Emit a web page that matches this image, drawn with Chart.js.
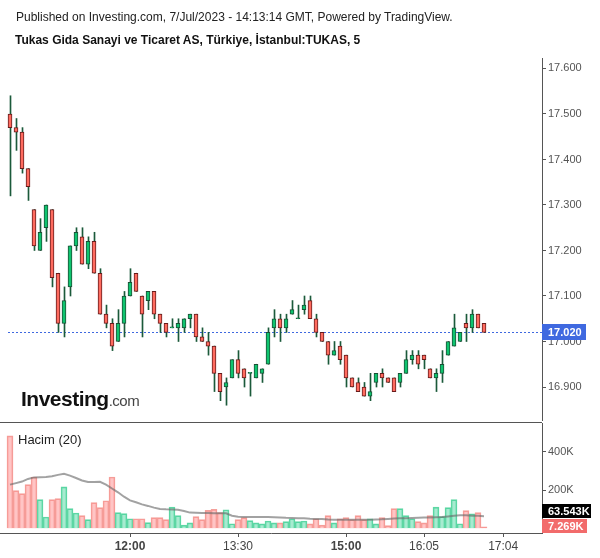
<!DOCTYPE html>
<html>
<head>
<meta charset="utf-8">
<script src="https://cdn.jsdelivr.net/npm/chart.js@4/dist/chart.umd.min.js"></script>
<style>
  body { margin: 0; width: 600px; height: 558px; position: relative; background: #fff;
         font-family: "Liberation Sans", Arial, sans-serif; overflow: hidden; }
  canvas { position: absolute; left: 0; }
  #price { top: 0; }
  #vol { top: 421px; }
  .txt { position: absolute; white-space: nowrap; color: #222; z-index: 2; }
  #pub { left: 16px; top: 10px; font-size: 12px; line-height: 14px; }
  #ttl { left: 15px; top: 33px; font-size: 12px; line-height: 14px; font-weight: bold; color: #111; }
  #logo { left: 21px; top: 387px; font-size: 21px; line-height: 24px; font-weight: bold;
          letter-spacing: -0.5px; color: #111; }
  #logo span { font-size: 15px; font-weight: normal; color: #444; }
  #hacim { left: 18px; top: 432px; font-size: 13px; line-height: 15px; }
</style>
</head>
<body>
<div class="txt" id="pub">Published on Investing.com, 7/Jul/2023 - 14:13:14 GMT, Powered by TradingView.</div>
<div class="txt" id="ttl">Tukas Gida Sanayi ve Ticaret AS, Türkiye, İstanbul:TUKAS, 5</div>
<canvas id="price" width="600" height="421"></canvas>
<canvas id="vol" width="600" height="137"></canvas>
<div class="txt" id="logo">Investing<span>.com</span></div>
<div class="txt" id="hacim">Hacim (20)</div>
<script>
// 5-minute candles
const OPEN = [17.50,17.47,17.46,17.38,17.29,17.20,17.25,17.29,17.15,17.04,
  17.12,17.21,17.23,17.17,17.22,17.15,17.06,17.04,17.00,17.04,
  17.10,17.15,17.10,17.09,17.11,17.06,17.04,17.03,17.03,17.03,
  17.05,17.06,17.01,17.00,16.99,16.93,16.90,16.92,16.96,16.94,
  16.93,16.92,16.93,16.95,17.03,17.05,17.03,17.06,17.05,17.07,
  17.09,17.05,17.02,17.00,16.97,16.99,16.97,16.92,16.91,16.90,
  16.88,16.91,16.93,16.92,16.92,16.91,16.93,16.96,16.97,16.97,
  16.94,16.92,16.93,16.97,16.99,17.00,17.04,17.03,17.06,17.04];
const HIGH = [17.54,17.49,17.47,17.38,17.29,17.27,17.30,17.29,17.15,17.12,
  17.21,17.25,17.25,17.23,17.24,17.16,17.08,17.05,17.07,17.11,
  17.16,17.15,17.10,17.11,17.11,17.06,17.04,17.05,17.05,17.05,
  17.06,17.06,17.03,17.02,16.99,16.93,16.92,16.96,16.98,16.94,
  16.93,16.95,16.94,17.03,17.07,17.06,17.06,17.09,17.08,17.10,
  17.10,17.06,17.02,17.00,17.00,17.00,16.97,16.92,16.92,16.91,
  16.93,16.93,16.94,16.92,16.92,16.93,16.98,16.98,16.98,16.97,
  16.94,16.94,16.98,17.00,17.06,17.02,17.06,17.07,17.06,17.04];
const LOW = [17.32,17.42,17.37,17.31,17.20,17.20,17.22,17.12,17.02,17.01,
  17.10,17.20,17.17,17.16,17.15,17.06,17.03,16.98,17.00,17.01,
  17.10,17.11,17.01,17.07,17.05,17.02,17.01,17.03,17.00,17.02,
  17.03,17.00,17.00,16.97,16.89,16.87,16.86,16.92,16.92,16.90,
  16.88,16.92,16.91,16.95,17.01,17.00,17.02,17.06,17.05,17.06,
  17.05,17.01,17.00,16.95,16.97,16.95,16.90,16.90,16.89,16.88,
  16.87,16.90,16.90,16.91,16.89,16.90,16.93,16.95,16.94,16.94,
  16.92,16.89,16.91,16.97,16.99,17.00,17.00,17.02,17.03,17.02];
const CLOSE = [17.47,17.46,17.38,17.34,17.21,17.24,17.30,17.14,17.04,17.09,
  17.21,17.24,17.17,17.22,17.15,17.06,17.04,16.99,17.04,17.10,
  17.13,17.11,17.06,17.11,17.06,17.04,17.02,17.03,17.04,17.05,
  17.06,17.01,17.00,16.99,16.93,16.89,16.91,16.96,16.93,16.92,
  16.93,16.95,16.94,17.02,17.05,17.03,17.05,17.07,17.05,17.08,
  17.05,17.02,17.00,16.97,16.98,16.96,16.92,16.90,16.89,16.88,
  16.89,16.93,16.92,16.91,16.89,16.93,16.96,16.97,16.95,16.96,
  16.92,16.93,16.95,17.00,17.03,17.02,17.03,17.06,17.03,17.02];
// volume and its 20-period average, thousands
const VOLUME_K = [483,197,181,228,268,150,59,150,155,216,
  103,80,66,45,134,108,144,268,82,77,
  50,50,50,30,56,56,45,111,66,17,
  28,61,45,94,99,82,97,24,45,56,
  40,28,23,38,28,28,35,50,35,38,
  23,50,17,66,28,50,56,45,66,45,
  50,23,56,14,103,103,66,50,35,28,
  66,111,61,108,150,24,92,75,82,7.269];
const MA_K = [228,236,244,258,266,267,268,272,279,285,
  275,263,250,242,242,243,228,208,188,165,
  146,136,125,117,108,101,99,98,97,90,
  82,81,80,80,79,78,78,66,60,59,
  59,59,59,59,58,57,55,54,53,52,
  50,49,48,46,45,45,45,45,45,45,
  45,46,47,49,51,52,53,54,55,56,
  57,58,59,62,65,68,68,66,65,63.543];
const PRICE_TICKS = [16.9, 17.0, 17.1, 17.2, 17.3, 17.4, 17.5, 17.6];
const VOL_TICKS = [200, 400];
const TIME_POS = [20, 38, 56, 69, 82.2];
const TIME_LABELS = ["12:00", "13:30", "15:00", "16:05", "17:04"];
const BOLD_TIMES = ["12:00", "15:00"];

const FONT = "'Liberation Sans', Arial, sans-serif";
Chart.defaults.font.family = FONT;

const C = {
  up: "#0fc46f", upEdge: "#1b4f35", dn: "#ff6b5f", dnEdge: "#651b1b",
  wick: "#1b5a3a", axis: "#555", txt: "#555", last: "#3f69e0",
  vUp: "rgba(60,210,150,0.45)", vUpEdge: "#63d8a6",
  vDn: "rgba(255,140,140,0.5)", vDnEdge: "#f4a09b", ma: "rgba(105,105,105,0.62)",
};

const IDX = OPEN.map((_, i) => i);
const isUp = i => CLOSE[i] >= OPEN[i];
const PX = 6;              // px per candle
const X_MIN = -10 / PX, X_MAX = X_MIN + 542 / PX;
const HALF = 0.5 / PX;     // shift wicks half a pixel so they land crisp

const xScale = (min, max) => ({ type: "linear", min, max, offset: false, display: false });
// fixed axis width, and no extra room for the end labels
const fitY = s => { s.width = 58; s.paddingTop = 0; s.paddingBottom = 0; };

// dashed line + box for the last price
const lastPricePlugin = {
  id: "lastPrice",
  beforeDatasetsDraw(chart) {
    const { ctx, chartArea: ca, scales: { x, y } } = chart;
    const py = Math.round(y.getPixelForValue(CLOSE[CLOSE.length - 1])) + 0.5;
    ctx.save();
    ctx.strokeStyle = C.last; ctx.lineWidth = 1; ctx.setLineDash([2, 2]);
    ctx.beginPath();
    ctx.moveTo(x.getPixelForValue(0) - 2, py); ctx.lineTo(ca.right, py);
    ctx.stroke();
    ctx.restore();
  },
  afterDraw(chart) {
    const { ctx, chartArea: ca, scales: { y } } = chart;
    const v = CLOSE[CLOSE.length - 1];
    const py = Math.round(y.getPixelForValue(v));
    ctx.save();
    ctx.fillStyle = C.last;
    ctx.fillRect(ca.right, py - 8, 44, 16);
    ctx.fillStyle = "#fff"; ctx.font = "bold 11px " + FONT;
    ctx.textBaseline = "middle";
    ctx.fillText(v.toFixed(3), ca.right + 6, py + 0.5);
    ctx.restore();
  },
};

new Chart(document.getElementById("price"), {
  type: "bar",
  data: {
    datasets: [
      { label: "wick", xAxisID: "xw", grouped: false, order: 2, barThickness: 1,
        backgroundColor: C.wick,
        data: IDX.map(i => ({ x: i, y: [LOW[i], HIGH[i]] })) },
      { label: "body", xAxisID: "x", grouped: false, order: 1, barThickness: 4,
        borderWidth: 1, borderSkipped: false, minBarLength: 1,
        backgroundColor: ctx => isUp(ctx.dataIndex) ? C.up : C.dn,
        borderColor: ctx => isUp(ctx.dataIndex) ? C.upEdge : C.dnEdge,
        data: IDX.map(i => ({ x: i, y: [OPEN[i], CLOSE[i]] })) },
    ],
  },
  options: {
    responsive: false, animation: false, events: [],
    layout: { padding: { top: 58, bottom: 1, left: 0, right: 0 } },
    plugins: { legend: { display: false }, tooltip: { enabled: false } },
    scales: {
      x: xScale(X_MIN, X_MAX),
      xw: xScale(X_MIN - HALF, X_MAX - HALF),
      y: {
        position: "right", min: 16.8275, max: 17.623,
        afterFit: fitY,
        afterBuildTicks: s => { s.ticks = PRICE_TICKS.map(v => ({ value: v })); },
        grid: { drawOnChartArea: false, drawTicks: true, tickLength: 4, color: C.axis },
        border: { display: true, color: C.axis },
        ticks: { color: C.txt, padding: 2, font: { size: 11 }, callback: v => v.toFixed(3) },
      },
    },
  },
  plugins: [lastPricePlugin],
});

// top rule of the volume pane + value boxes on its axis
const volumePanePlugin = {
  id: "volPane",
  afterDraw(chart) {
    const { ctx, chartArea: ca, scales: { y } } = chart;
    ctx.save();
    ctx.strokeStyle = C.axis; ctx.lineWidth = 1;
    ctx.beginPath(); ctx.moveTo(0, ca.top - 0.5); ctx.lineTo(ca.right, ca.top - 0.5); ctx.stroke();

    const h = 14;
    const vol = VOLUME_K[VOLUME_K.length - 1], ma = MA_K[MA_K.length - 1];
    let yVol = Math.min(y.getPixelForValue(vol), ca.bottom - h / 2 - 0.5);
    let yMa = y.getPixelForValue(ma);
    if (Math.abs(yMa - yVol) < h + 1) yMa = yVol - h - 1;
    const box = (cy, w, bg, label) => {
      const top = Math.round(cy - h / 2);
      ctx.fillStyle = bg;
      ctx.fillRect(ca.right, top, w, h);
      ctx.fillStyle = "#fff"; ctx.font = "bold 11px " + FONT; ctx.textBaseline = "middle";
      ctx.fillText(label, ca.right + 6, top + h / 2 + 0.5);
    };
    box(yMa, 49, "#000", ma.toFixed(3) + "K");
    box(yVol, 45, "#f26b6b", vol.toFixed(3) + "K");
    ctx.restore();
  },
};

new Chart(document.getElementById("vol"), {
  type: "bar",
  data: {
    datasets: [
      { type: "line", label: "ma", order: 1, borderColor: C.ma, borderWidth: 2,
        pointRadius: 0, tension: 0, data: IDX.map(i => ({ x: i, y: MA_K[i] })) },
      { label: "volume", order: 2, barThickness: 6, borderWidth: 1,
        backgroundColor: ctx => isUp(ctx.dataIndex) ? C.vUp : C.vDn,
        borderColor: ctx => isUp(ctx.dataIndex) ? C.vUpEdge : C.vDnEdge,
        data: IDX.map(i => ({ x: i, y: VOLUME_K[i] })) },
    ],
  },
  options: {
    responsive: false, animation: false, events: [],
    layout: { padding: { top: 2, bottom: 0, left: 0, right: 0 } },
    plugins: { legend: { display: false }, tooltip: { enabled: false } },
    scales: {
      x: {
        type: "linear", min: X_MIN, max: X_MAX, offset: false, position: "bottom",
        afterFit: s => { s.height = 25; s.paddingLeft = 0; s.paddingRight = 0; },
        afterBuildTicks: s => { s.ticks = TIME_POS.map(v => ({ value: v })); },
        grid: { offset: false, drawOnChartArea: false, drawTicks: true, tickLength: 4, color: C.axis },
        border: { display: true, color: C.axis },
        ticks: {
          autoSkip: false, maxRotation: 0, padding: 2, color: "#444",
          callback: (v, i) => TIME_LABELS[i],
          font: ctx => ({ size: 12, weight: BOLD_TIMES.includes(TIME_LABELS[ctx.index]) ? "bold" : "normal" }),
        },
      },
      y: {
        position: "right", min: -24.5, max: 550,
        afterFit: fitY,
        afterBuildTicks: s => { s.ticks = VOL_TICKS.map(v => ({ value: v })); },
        grid: { drawOnChartArea: false, drawTicks: true, tickLength: 4, color: C.axis },
        border: { display: true, color: C.axis },
        ticks: { color: C.txt, padding: 2, font: { size: 11 }, callback: v => v + "K" },
      },
    },
  },
  plugins: [volumePanePlugin],
});
</script>
</body>
</html>
